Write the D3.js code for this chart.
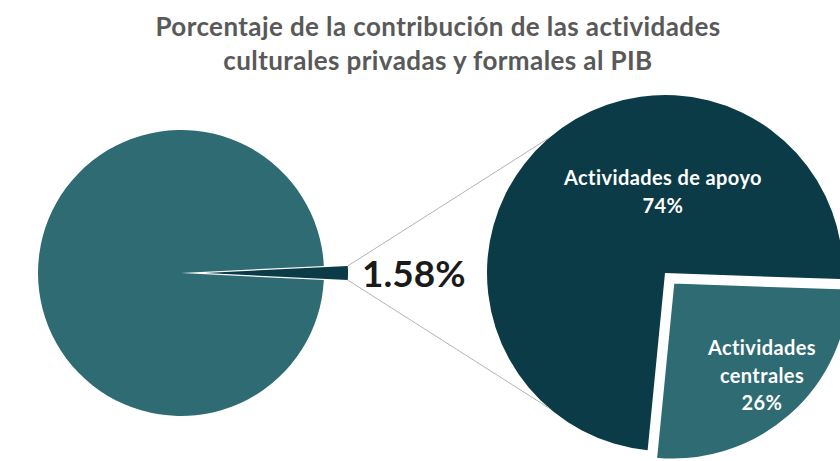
<!DOCTYPE html>
<html>
<head>
<meta charset="utf-8">
<script src="https://cdn.jsdelivr.net/npm/d3@7"></script>
<style>
  body { margin: 0; background: #fff; }
  svg { display: block; font-family: Lato, "Open Sans", sans-serif; }
</style>
</head>
<body>
<div id="canvas"></div>
<script>
// data
var titleLines = ['Porcentaje de la contribución de las actividades', 'culturales privadas y formales al PIB'];
var mainLabels = ['Actividades culturales', 'Resto del PIB'];
var mainValues = [1.58, 98.42];
var subLabels = [['Actividades', 'centrales'], ['Actividades de apoyo']];
var subValues = [26, 74];

var W = 840, H = 461;
var svg = d3.select('#canvas').append('svg').attr('width', W).attr('height', H);

var teal = '#2e6b73', dark = '#0b3b46';

// title
svg.selectAll('.title').data(titleLines).enter().append('text')
  .attr('class', 'title')
  .attr('x', 438)
  .attr('y', function(d, i) { return 36 + i * 34; })
  .attr('text-anchor', 'middle')
  .attr('font-size', 26)
  .attr('font-weight', 'bold')
  .attr('letter-spacing', 0.4)
  .attr('fill', '#595959')
  .text(function(d) { return d; });

// left pie
var L = {x: 181, y: 273, r: 143, explode: 24};
var smallAngle = mainValues[0] / d3.sum(mainValues) * 2 * Math.PI;
var pieMain = d3.pie().sort(null).startAngle(Math.PI / 2 - smallAngle / 2).endAngle(Math.PI / 2 - smallAngle / 2 + 2 * Math.PI);
var arcMain = d3.arc().innerRadius(0).outerRadius(L.r);
var mainArcs = pieMain(mainValues);

var gL = svg.append('g').attr('transform', 'translate(' + L.x + ',' + L.y + ')');
gL.selectAll('path').data(mainArcs).enter().append('path')
  .attr('d', arcMain)
  .attr('fill', function(d, i) { return i === 0 ? dark : teal; })
  .attr('transform', function(d, i) {
    if (i !== 0) return null;
    var a = (d.startAngle + d.endAngle) / 2;
    return 'translate(' + (Math.sin(a) * L.explode) + ',' + (-Math.cos(a) * L.explode) + ')';
  });

// right pie
var R = {x: 665, y: 273, r: 178, explode: 12};
var pieSub = d3.pie().sort(null).startAngle(92 * Math.PI / 180).endAngle(92 * Math.PI / 180 + 2 * Math.PI);
var arcSub = d3.arc().innerRadius(0).outerRadius(R.r);
var subArcs = pieSub(subValues);

var gR = svg.append('g').attr('transform', 'translate(' + R.x + ',' + R.y + ')');
gR.selectAll('path').data(subArcs.slice().reverse()).enter().append('path')
  .attr('d', arcSub)
  .attr('fill', function(d) { return d.index === 0 ? teal : dark; })
  .attr('stroke', '#fff')
  .attr('stroke-width', function(d) { return d.index === 0 ? 3 : 0; })
  .attr('stroke-linejoin', 'miter')
  .attr('transform', function(d) {
    if (d.index !== 0) return null;
    var a = (d.startAngle + d.endAngle) / 2;
    return 'translate(' + (Math.sin(a) * R.explode) + ',' + (-Math.cos(a) * R.explode) + ')';
  });

// connector lines from small slice to the secondary pie
var sm = mainArcs[0];
var smMid = (sm.startAngle + sm.endAngle) / 2;
var ox = L.x + Math.sin(smMid) * L.explode, oy = L.y - Math.cos(smMid) * L.explode;
var p1 = [ox + Math.sin(sm.startAngle) * L.r, oy - Math.cos(sm.startAngle) * L.r];
var p2 = [ox + Math.sin(sm.endAngle) * L.r, oy - Math.cos(sm.endAngle) * L.r];
var tA = -40.5 * Math.PI / 180, bA = -139.5 * Math.PI / 180;
var q1 = [R.x + Math.sin(tA) * R.r, R.y - Math.cos(tA) * R.r];
var q2 = [R.x + Math.sin(bA) * R.r, R.y - Math.cos(bA) * R.r];
svg.selectAll('.conn').data([[p1, q1], [p2, q2]]).enter().append('line')
  .attr('class', 'conn')
  .attr('x1', function(d) { return d[0][0]; })
  .attr('y1', function(d) { return d[0][1]; })
  .attr('x2', function(d) { return d[1][0]; })
  .attr('y2', function(d) { return d[1][1]; })
  .attr('stroke', '#b4b4b4')
  .attr('stroke-width', 1);

// percentage label for the small slice
svg.append('text')
  .attr('x', 362).attr('y', 287)
  .attr('font-size', 37).attr('font-weight', 'bold').attr('fill', '#1a1a1a')
  .text(d3.format('.2f')(mainValues[0]) + '%');

// labels inside secondary pie
var labelPos = [[762, 355], [663, 185]];
subArcs.forEach(function(d, i) {
  var lines = subLabels[i].concat([subValues[i] + '%']);
  var t = svg.append('text')
    .attr('text-anchor', 'middle')
    .attr('font-size', 20).attr('font-weight', 'bold').attr('fill', '#fff')
    .attr('letter-spacing', 0.4);
  lines.forEach(function(s, k) {
    t.append('tspan').attr('x', labelPos[i][0]).attr('y', labelPos[i][1] + k * 27.5).text(s);
  });
});
</script>
</body>
</html>
